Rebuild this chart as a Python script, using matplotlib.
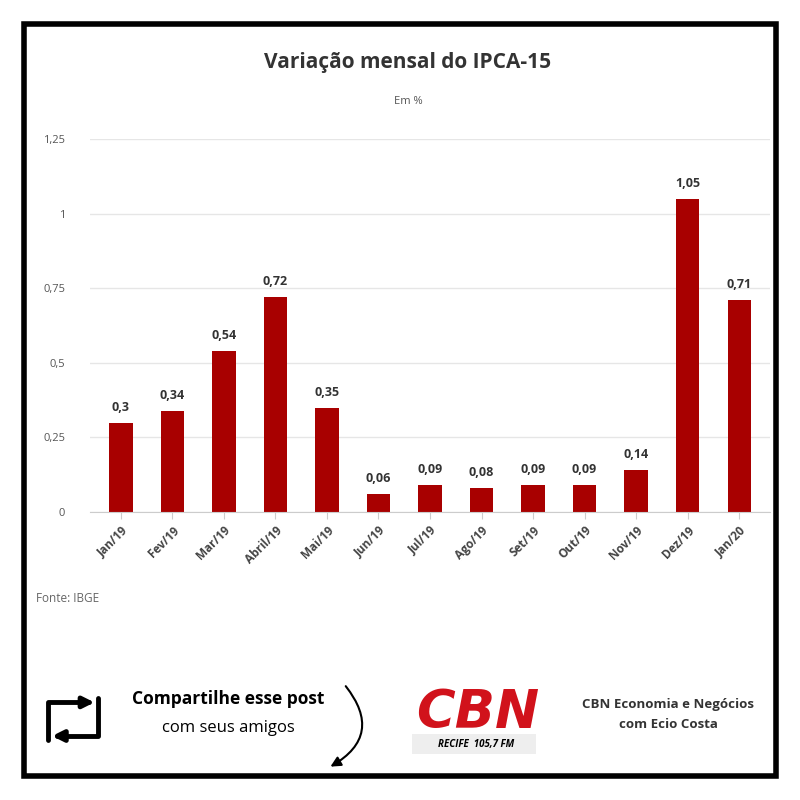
import matplotlib.pyplot as plt
from matplotlib.patches import Rectangle, FancyArrowPatch
from matplotlib.path import Path

months = ["Jan/19", "Fev/19", "Mar/19", "Abril/19", "Mai/19", "Jun/19", "Jul/19",
          "Ago/19", "Set/19", "Out/19", "Nov/19", "Dez/19", "Jan/20"]
values = [0.30, 0.34, 0.54, 0.72, 0.35, 0.06, 0.09, 0.08, 0.09, 0.09, 0.14, 1.05, 0.71]
labels = ["0,3", "0,34", "0,54", "0,72", "0,35", "0,06", "0,09", "0,08", "0,09", "0,09", "0,14", "1,05", "0,71"]
yticks = [0, 0.25, 0.5, 0.75, 1, 1.25]
yticklabels = ["0", "0,25", "0,5", "0,75", "1", "1,25"]

plt.rcParams['font.family'] = ['Open Sans', 'DejaVu Sans']
fig = plt.figure(figsize=(8, 8), dpi=100)

# black frame
fig.add_artist(Rectangle((0.03, 0.03), 0.94, 0.94, transform=fig.transFigure,
                         fill=False, edgecolor="black", linewidth=4))

ax = fig.add_axes([0.1125, 0.36, 0.85, 0.466])
x = range(len(months))
ax.bar(x, values, width=0.45, color="#a80000", zorder=2)
for i, v in enumerate(values):
    ax.text(i, v + 0.03, labels[i], ha="center", va="bottom", fontsize=9,
            fontweight="bold", color="#333333")
ax.set_ylim(0, 1.25)
ax.set_xlim(-0.6, len(months) - 0.4)
ax.set_yticks(yticks)
ax.set_yticklabels(yticklabels, fontsize=8, color="#555555")
ax.set_xticks(list(x))
ax.set_xticklabels(months, rotation=45, ha="right", rotation_mode="anchor",
                   fontsize=8.5, fontweight="bold", color="#444444")
ax.grid(axis="y", color="#e6e6e6", linewidth=1, zorder=0)
for s in ["top", "right", "left"]:
    ax.spines[s].set_visible(False)
ax.spines["bottom"].set_color("#cccccc")
ax.tick_params(axis="y", length=0, pad=18)
ax.tick_params(axis="x", length=5, color="#cccccc")

fig.text(0.51, 0.915, "Variação mensal do IPCA-15", ha="center", fontsize=15,
         fontweight="bold", color="#333333")
fig.text(0.51, 0.87, "Em %", ha="center", fontsize=8, color="#555555")
fig.text(0.045, 0.248, "Fonte: IBGE", fontsize=8.5, color="#666666")

# share block
fig.text(0.285, 0.12, "Compartilhe esse post", ha="center", fontsize=12.5, fontweight="bold")
fig.text(0.285, 0.085, "com seus amigos", ha="center", fontsize=12)
p1 = Path([(0.06, 0.075), (0.06, 0.122), (0.118, 0.122)])
p2 = Path([(0.123, 0.127), (0.123, 0.08), (0.065, 0.08)])
for p in (p1, p2):
    fig.add_artist(FancyArrowPatch(path=p, transform=fig.transFigure, arrowstyle="-|>",
                                   mutation_scale=16, linewidth=3.5, color="black",
                                   joinstyle="round", capstyle="round"))
fig.add_artist(FancyArrowPatch((0.43, 0.145), (0.41, 0.04), transform=fig.transFigure,
                               connectionstyle="arc3,rad=-0.6", arrowstyle="-|>",
                               mutation_scale=15, linewidth=1.5, color="black"))

# CBN logo
fig.text(0.52, 0.09, "CBN", fontsize=38, fontweight="bold", style="italic",
         color="#d1121b", family="DejaVu Sans")
fig.add_artist(Rectangle((0.515, 0.058), 0.155, 0.024, transform=fig.transFigure,
                         facecolor="#eeeeee", edgecolor="none"))
fig.text(0.595, 0.07, "RECIFE  105,7 FM", ha="center", va="center", fontsize=7,
         fontweight="bold", style="italic")
fig.text(0.835, 0.115, "CBN Economia e Negócios", ha="center", fontsize=9.5,
         fontweight="bold", color="#333333")
fig.text(0.835, 0.09, "com Ecio Costa", ha="center", fontsize=9.5,
         fontweight="bold", color="#333333")

fig.savefig("out.png", dpi=100)
